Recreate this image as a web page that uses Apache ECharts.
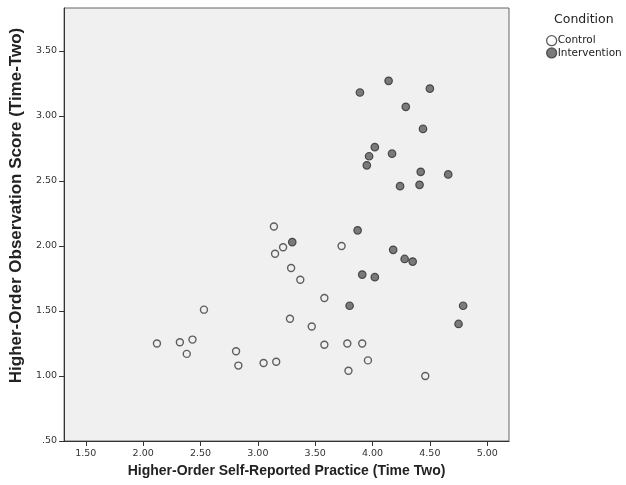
<!DOCTYPE html>
<html><head><meta charset="utf-8">
<script src="https://cdn.jsdelivr.net/npm/echarts@6/dist/echarts.min.js"></script>
<style>html,body{margin:0;padding:0;background:#fff}#c{width:626px;height:485px}</style>
</head><body><div id="c"></div>
<script>
const xTicks = [1.5, 2.0, 2.5, 3.0, 3.5, 4.0, 4.5, 5.0];
const yTicks = [0.5, 1.0, 1.5, 2.0, 2.5, 3.0, 3.5];
const controlX = [2.12, 2.32, 2.43, 2.38, 2.53, 2.81, 2.83, 3.05, 3.16, 3.14, 3.15, 3.22, 3.29, 3.37, 3.58, 3.28, 3.47, 3.58, 3.78, 3.91, 3.96, 3.79, 4.46, 3.73];
const controlY = [1.25, 1.26, 1.28, 1.17, 1.51, 1.19, 1.08, 1.10, 1.11, 2.15, 1.94, 1.99, 1.83, 1.74, 1.60, 1.44, 1.38, 1.24, 1.25, 1.25, 1.12, 1.04, 1.00, 2.00];
const interventionX = [3.30, 3.87, 4.18, 4.28, 4.35, 3.91, 4.02, 3.80, 4.79, 4.75, 4.14, 3.89, 4.50, 4.29, 4.44, 4.02, 3.97, 4.17, 3.95, 4.42, 4.66, 4.24, 4.41];
const interventionY = [2.03, 2.12, 1.97, 1.90, 1.88, 1.78, 1.76, 1.54, 1.54, 1.40, 3.27, 3.18, 3.21, 3.07, 2.90, 2.76, 2.69, 2.71, 2.62, 2.57, 2.55, 2.46, 2.47];

const zip = (a, b) => a.map((v, i) => [v, b[i]]);
const chart = echarts.init(document.getElementById('c'), null, {renderer: 'canvas'});
const tickFont = {fontFamily: 'DejaVu Sans', fontSize: 9.5, color: '#333'};
chart.setOption({
  animation: false,
  backgroundColor: '#ffffff',
  grid: {left: 64, right: 117, top: 8, bottom: 44, show: true, backgroundColor: '#f0f0f0', borderColor: '#666', borderWidth: 1},
  title: {text: 'Condition', left: 554, top: 13, padding: 0, textStyle: {fontFamily: 'DejaVu Sans', fontSize: 12.5, fontWeight: 'normal', color: '#222'}},
  legend: {
    orient: 'vertical', left: 546, top: 35, padding: 0, itemGap: 1, itemWidth: 10, itemHeight: 10,
    textStyle: {fontFamily: 'DejaVu Sans', fontSize: 10.5, color: '#222', padding: [0, 0, 0, -4]},
    data: [
      {name: 'Control', icon: 'circle', itemStyle: {color: '#ffffff', borderColor: '#333', borderWidth: 1.3}},
      {name: 'Intervention', icon: 'circle', itemStyle: {color: '#5a5a5a', borderColor: '#333', borderWidth: 1.3}}
    ]
  },
  xAxis: {
    type: 'value', min: 1.31, max: 5.19,
    name: 'Higher-Order Self-Reported Practice (Time Two)', nameLocation: 'middle', nameGap: 19,
    nameTextStyle: {fontFamily: 'Liberation Sans', fontWeight: 'bold', fontSize: 14, color: '#222'},
    axisLine: {onZero: false, lineStyle: {color: '#333'}},
    axisTick: {show: true, length: 5, customValues: xTicks, lineStyle: {color: '#333'}},
    axisLabel: {customValues: xTicks, margin: 8, formatter: v => v.toFixed(2), ...tickFont},
    splitLine: {show: false}
  },
  yAxis: {
    type: 'value', min: 0.5, max: 3.83,
    name: 'Higher-Order Observation Score (Time-Two)', nameLocation: 'middle', nameGap: 37,
    nameTextStyle: {fontFamily: 'Liberation Sans', fontWeight: 'bold', fontSize: 17, color: '#222', padding: [0, 0, 0, 38]},
    axisLine: {show: true, onZero: false, lineStyle: {color: '#333'}},
    axisTick: {show: true, length: 5, customValues: yTicks, lineStyle: {color: '#333'}},
    axisLabel: {customValues: yTicks, margin: 7, formatter: v => v === 0.5 ? '.50' : v.toFixed(2), ...tickFont},
    splitLine: {show: false}
  },
  series: [
    {name: 'Control', type: 'scatter', symbol: 'circle', symbolSize: 7, data: zip(controlX, controlY),
      itemStyle: {color: 'rgba(0,0,0,0)', borderColor: '#3a3a3a', borderWidth: 1.4}},
    {name: 'Intervention', type: 'scatter', symbol: 'circle', symbolSize: 7.5, data: zip(interventionX, interventionY),
      itemStyle: {color: '#5c5c5c', borderColor: '#2e2e2e', borderWidth: 1.2}}
  ]
});
</script></body></html>
